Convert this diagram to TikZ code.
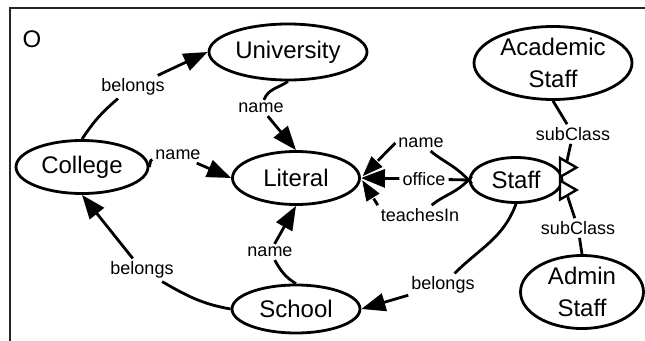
\documentclass[tikz,border=0pt]{standalone}
\usepackage{fontspec}
\setmainfont{Liberation Sans}
\usetikzlibrary{arrows.meta,shapes.geometric}
\begin{document}
\begin{tikzpicture}[x=1pt,y=-1pt,
  cls/.style={ellipse, draw, line width=2.8pt, inner sep=0pt, align=center,
              font=\fontsize{24}{32}\selectfont},
  elabel/.style={font=\fontsize{18}{20}\selectfont, inner sep=3pt},
  rel/.style={line width=2.8pt},
  arr/.style={rel, -{Triangle[length=24pt,width=18pt]}},
  arrw/.style={rel, -{Triangle[length=24pt,width=18pt,color=white,fill=black,line width=0.8pt]}},
  gentri/.style={regular polygon, regular polygon sides=3, shape border rotate=-90,
                 draw, fill=white, line width=2.4pt, minimum size=22pt, inner sep=0pt},
]
\useasboundingbox (0,0) rectangle (645,340);

% frame of the ontology
\draw[line width=2.2pt, color=black!85] (10,360) -- (10,8) -- (665,8);
\node[font=\fontsize{24}{26}\selectfont, inner sep=0pt] (ontology) at (32,39) {O};

% classes
\node[cls, minimum width=158pt, minimum height=56pt] (university) at (288,52) {University};
\node[cls, minimum width=158pt, minimum height=73pt] (academic) at (553,63) {Academic\\Staff};
\node[cls, minimum width=132pt, minimum height=53pt] (college) at (82,167) {College};
\node[cls, minimum width=127pt, minimum height=53pt] (literal) at (296,178) {Literal};
\node[cls, minimum width=92pt, minimum height=45pt] (staff) at (516,180) {Staff};
\node[cls, minimum width=128pt, minimum height=48pt] (school) at (296,309) {School};
\node[cls, minimum width=123pt, minimum height=73pt] (admin) at (582,292) {Admin\\Staff};

% generalisation markers on Staff
\node[gentri] (gen1) at (565.5,167.5) {};
\node[gentri] (gen2) at (565.5,190) {};

% property labels
\node[elabel] (b1) at (133,87) {belongs};
\node[elabel] (n2) at (261,108) {name};
\node[elabel] (n3) at (178,155) {name};
\node[elabel] (n4) at (270,252) {name};
\node[elabel] (b5) at (142,270) {belongs};
\node[elabel] (b6) at (443,285) {belongs};
\node[elabel] (n7) at (421,143) {name};
\node[elabel] (o8) at (424,179) {office};
\node[elabel] (t9) at (420,215) {teachesIn};
\node[elabel] (s10) at (573,134) {subClass};
\node[elabel] (s11) at (578,228) {subClass};

% properties
\draw[rel] (college.north) to[bend left=8] (b1);
\draw[arr] (b1) -- (university.west);
\draw[rel] (university.south) to[out=215,in=70] (n2);
\draw[arr] (n2) -- (literal.north);
\draw[rel] (college.east) to[out=60,in=190] (n3);
\draw[arr] (n3) -- (literal.west);
\draw[rel] (school.north) to[out=150,in=-60] (n4);
\draw[arr] (n4) -- (literal.south);
\draw[rel] (school.west) to[out=170,in=-30] (b5);
\draw[arr] (b5) -- (college.south);
\draw[rel] (staff.south) to[out=-110,in=45] (b6);
\draw[arr] (b6) -- (school.east);
\draw[rel] (staff.west) -- (o8);
\draw[arr] (o8) -- (literal.east);
\draw[rel, shorten <=-5pt] (staff.west) to[out=130,in=-40] (n7);
\draw[arrw] (n7.west) -- (literal.east);
\draw[rel, shorten <=-5pt] (staff.west) to[out=-130,in=40] (t9);
\draw[arrw] (t9.north west) -- (literal.east);

% subclass links
\draw[rel] (academic.south) -- (s10);
\draw[rel] (s10) -- (gen1);
\draw[rel] (admin.north) -- (s11);
\draw[rel] (s11) -- (gen2);
\end{tikzpicture}
\end{document}
